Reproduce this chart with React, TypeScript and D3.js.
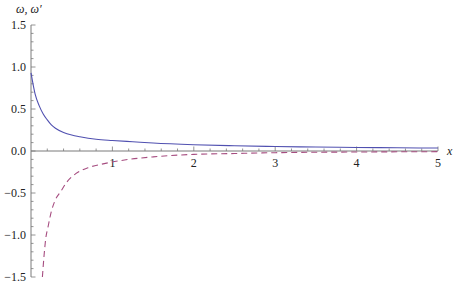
import { useEffect, useRef } from 'react';
import * as d3 from 'd3';

// omega (solid)
const omegaX = [0, 0.05, 0.1, 0.15, 0.2, 0.25, 0.3, 0.4, 0.5, 0.6, 0.8, 1.0, 1.25, 1.5, 2, 2.5, 3, 3.5, 4, 4.5, 5];
const omegaY = [0.93, 0.68, 0.54, 0.44, 0.37, 0.31, 0.27, 0.22, 0.19, 0.17, 0.14, 0.125, 0.11, 0.095, 0.075, 0.062, 0.053, 0.047, 0.042, 0.038, 0.035];

// omega' (dashed)
const dOmegaX = [0.14, 0.16, 0.18, 0.21, 0.25, 0.3, 0.36, 0.44, 0.55, 0.7, 0.9, 1.2, 1.5, 2, 2.5, 3, 4, 5];
const dOmegaY = [-1.5, -1.25, -1.05, -0.9, -0.72, -0.58, -0.49, -0.37, -0.27, -0.2, -0.15, -0.1, -0.07, -0.04, -0.03, -0.02, -0.012, -0.008];

const xTicks = [1, 2, 3, 4, 5];
const yTicks = [-1.5, -1.0, -0.5, 0.0, 0.5, 1.0, 1.5];

export default function App() {
  const ref = useRef<SVGSVGElement>(null);

  useEffect(() => {
    if (!ref.current) return;
    const svg = d3.select(ref.current);
    svg.selectAll('*').remove();

    const x = d3.scaleLinear().domain([0, 5]).range([31, 438]);
    const y = d3.scaleLinear().domain([-1.5, 1.5]).range([277, 25]);
    const axisColor = '#7a7a7a';
    const font = '"Liberation Serif", "DejaVu Serif", serif';

    const g = svg.append('g').style('font-family', font);

    // x axis, minor ticks every 0.2
    g.append('line')
      .attr('x1', x(0)).attr('x2', x(5))
      .attr('y1', y(0)).attr('y2', y(0))
      .attr('stroke', axisColor).attr('stroke-width', 1);
    d3.range(1, 26).forEach((i) => {
      const v = i * 0.2;
      const major = i % 5 === 0;
      g.append('line')
        .attr('x1', x(v)).attr('x2', x(v))
        .attr('y1', y(0)).attr('y2', y(0) - (major ? 4.5 : 2.5))
        .attr('stroke', axisColor).attr('stroke-width', 0.8);
    });
    xTicks.forEach((t) => {
      g.append('text')
        .attr('x', x(t)).attr('y', y(0) + 16)
        .attr('text-anchor', 'middle')
        .attr('font-size', 12)
        .attr('fill', '#222')
        .text(String(t));
    });

    // y axis, minor ticks every 0.1
    g.append('line')
      .attr('x1', x(0)).attr('x2', x(0))
      .attr('y1', y(-1.5)).attr('y2', y(1.5))
      .attr('stroke', axisColor).attr('stroke-width', 1);
    d3.range(-15, 16).forEach((i) => {
      const v = i / 10;
      const major = i % 5 === 0;
      g.append('line')
        .attr('x1', x(0)).attr('x2', x(0) + (major ? 4.5 : 2.5))
        .attr('y1', y(v)).attr('y2', y(v))
        .attr('stroke', axisColor).attr('stroke-width', 0.8);
    });
    yTicks.forEach((t) => {
      g.append('text')
        .attr('x', x(0) - 5).attr('y', y(t) + 4.2)
        .attr('text-anchor', 'end')
        .attr('font-size', 12)
        .attr('fill', '#222')
        .text(t < 0 ? '\u2212' + Math.abs(t).toFixed(1) : t.toFixed(1));
    });

    // axis labels
    g.append('text')
      .attr('x', 16).attr('y', 13)
      .attr('font-size', 12).attr('font-style', 'italic')
      .attr('fill', '#222')
      .text('\u03c9, \u03c9\u2032');
    g.append('text')
      .attr('x', 447).attr('y', 155)
      .attr('font-size', 12).attr('font-style', 'italic')
      .attr('fill', '#222')
      .text('x');

    const line = d3.line<[number, number]>()
      .x((d) => x(d[0]))
      .y((d) => y(d[1]))
      .curve(d3.curveMonotoneX);

    g.append('path')
      .datum(omegaX.map((v, i) => [v, omegaY[i]] as [number, number]))
      .attr('d', line)
      .attr('fill', 'none')
      .attr('stroke', '#5050b0')
      .attr('stroke-width', 1.1);

    g.append('path')
      .datum(dOmegaX.map((v, i) => [v, dOmegaY[i]] as [number, number]))
      .attr('d', line)
      .attr('fill', 'none')
      .attr('stroke', '#a64d80')
      .attr('stroke-width', 1.1)
      .attr('stroke-dasharray', '6,4');
  }, []);

  return (
    <svg
      ref={ref}
      width={457}
      height={285}
      style={{ position: 'fixed', left: 0, top: 0, background: '#fff' }}
    />
  );
}
